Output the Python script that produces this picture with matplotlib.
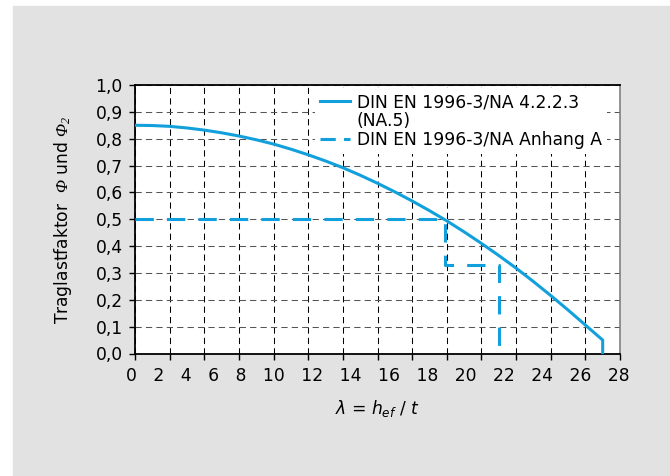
import matplotlib
matplotlib.use("Agg")
import matplotlib.pyplot as plt
from matplotlib.lines import Line2D
from matplotlib.patches import Rectangle

# slenderness lambda = h_ef / t and load factor
lam = [0, 1, 2, 3, 4, 5, 6, 7, 8, 9, 10, 11, 12, 13, 14, 15, 16, 17, 18, 19,
       20, 21, 22, 23, 24, 25, 26, 27, 27]
phi = [0.850, 0.849, 0.846, 0.840, 0.832, 0.822, 0.810, 0.796, 0.780, 0.761,
       0.740, 0.717, 0.692, 0.664, 0.634, 0.602, 0.568, 0.532, 0.494, 0.453,
       0.410, 0.365, 0.318, 0.268, 0.216, 0.162, 0.106, 0.050, 0.0]

# step line after Anhang A
lam_a = [0, 17.9, 17.9, 21.0, 21.0]
phi_a = [0.50, 0.50, 0.33, 0.33, 0.0]

x_ticks = list(range(0, 29, 2))
x_labels = [str(v) for v in x_ticks]
y_ticks = [0.0, 0.1, 0.2, 0.3, 0.4, 0.5, 0.6, 0.7, 0.8, 0.9, 1.0]
y_labels = ["0,0", "0,1", "0,2", "0,3", "0,4", "0,5", "0,6", "0,7", "0,8", "0,9", "1,0"]

legend_labels = ["DIN EN 1996-3/NA 4.2.2.3", "(NA.5)", "DIN EN 1996-3/NA Anhang A"]

blue = "#12a0dc"
fs = 12.3

plt.rcParams["font.family"] = ["DejaVu Sans"]
plt.rcParams["mathtext.fontset"] = "dejavusans"
# 'custom' set is only used for the italic Phi in the y label
plt.rcParams["mathtext.rm"] = "Liberation Serif:italic"
plt.rcParams["mathtext.it"] = "Liberation Serif:italic"

fig = plt.figure(figsize=(6.7, 4.76), dpi=100)
fig.patches.append(Rectangle((13 / 670, 0), 1, 470 / 476, transform=fig.transFigure,
                             color="#e1e2e1", zorder=-10))
ax = fig.add_axes([135 / 670, 1 - 353.5 / 476, 485 / 670, 268.5 / 476])
ax.set_facecolor("white")

ax.plot(lam, phi, color=blue, lw=2.2, solid_joinstyle="miter", zorder=3)
ax.plot(lam_a, phi_a, color=blue, lw=2.2, dashes=(6, 4.3), zorder=3)

ax.set_xlim(0, 28)
ax.set_ylim(0, 1)
ax.set_xticks(x_ticks)
ax.set_yticks(y_ticks)
ax.set_yticklabels(y_labels, fontsize=fs)
ax.tick_params(axis="x", labelbottom=False, length=4, width=1, direction="out")
ax.tick_params(axis="y", length=4.3, width=1, pad=4.5, direction="out")

# tick numbers as one spaced line, as in the original print
ax.text(0.5, -0.1024, "   ".join(x_labels), transform=ax.transAxes,
        ha="center", va="baseline", fontsize=fs)

ax.xaxis.grid(True, color="black", lw=0.75, linestyle=(0, (6, 4)))
ax.yaxis.grid(True, color="#555555", lw=0.75, linestyle=(0, (6, 4)))
ax.set_axisbelow(True)

for side in ["left", "bottom", "top"]:
    ax.spines[side].set_linewidth(1.3)
    ax.spines[side].set_color("black")
ax.spines["right"].set_linewidth(1.1)
ax.spines["right"].set_color("#777777")

ax.set_ylabel(r"Traglastfaktor  $\Phi$ und $\Phi_2$", fontsize=fs,
              math_fontfamily="custom")
ax.yaxis.set_label_coords(-0.125, 0.5)
ax.set_xlabel(r"$\lambda$ = $h_{ef}$ / $t$", fontsize=fs)
ax.xaxis.set_label_coords(0.5, -0.165)

# legend proxies: second row only carries the wrapped text
h_solid = Line2D([], [], color=blue, lw=2.2)
h_blank = Line2D([], [], color="none")
h_dash = Line2D([], [], color=blue, lw=2.2, dashes=(5, 2.7))
ax.legend([h_solid, h_blank, h_dash], legend_labels, loc="upper left",
          bbox_to_anchor=(0.371, 0.989), borderaxespad=0, borderpad=0.3,
          fontsize=fs, frameon=True, fancybox=False, framealpha=1,
          facecolor="white", edgecolor="none", handlelength=1.75,
          handletextpad=0.4, labelspacing=0.05)

fig.savefig("out.png", dpi=100)
